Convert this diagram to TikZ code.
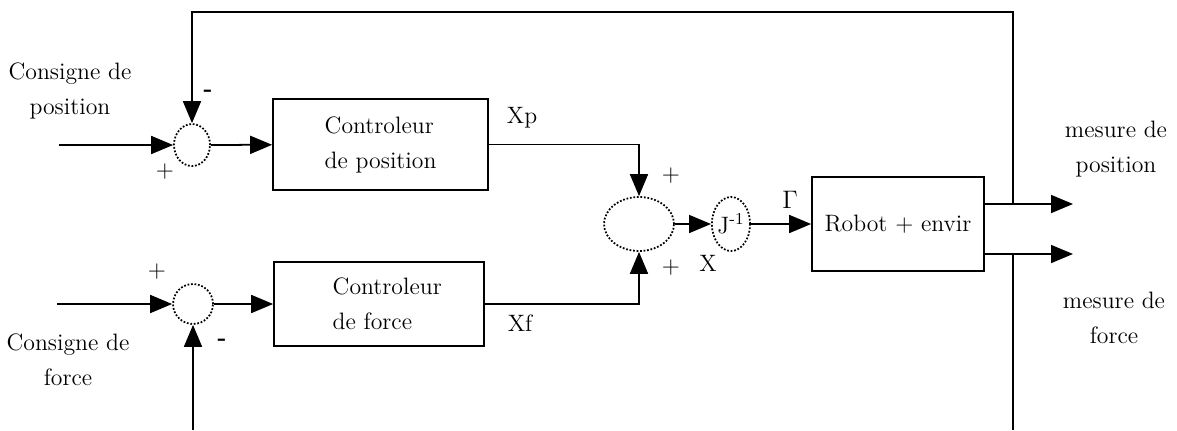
\documentclass[tikz,border=0pt]{standalone}
\usetikzlibrary{arrows.meta,shapes.geometric}

\begin{document}
\begin{tikzpicture}[x=0.02cm, y=-0.02cm, line width=1pt,
  >={Triangle[length=0.44cm, width=0.36cm]},
  every node/.style={font=\fontsize{13.5}{20}\selectfont},
  block/.style={draw, rectangle, inner sep=0pt},
  summer/.style={draw, ellipse, densely dotted, inner sep=0pt}]
  \useasboundingbox (0,0) rectangle (1177,430);

  % sommateurs et blocs
  \node[summer, minimum width=0.72cm, minimum height=0.84cm] (sP) at (192,145) {};
  \node[summer, minimum width=0.8cm, minimum height=0.8cm] (sF) at (193,304) {};
  \node[block, minimum width=4.3cm, minimum height=1.82cm] (ctrlP) at (380.5,144.5) {};
  \node[block, minimum width=4.2cm, minimum height=1.68cm] (ctrlF) at (379,304) {};
  \node[summer, minimum width=1.4cm, minimum height=1.08cm] (sum) at (639,224) {};
  \node[summer, minimum width=0.74cm, minimum height=1.08cm] (jinv) at (731,224) {J\textsuperscript{-1}};
  \node[block, minimum width=3.44cm, minimum height=1.88cm] (rob) at (898,224) {Robot + envir};

  \node[align=left, anchor=west] (tP) at (318,145) {Controleur\\de position};
  \node[align=left, anchor=west] (tF) at (326,304) {Controleur\\de force};

  \coordinate (inP) at (59,145);
  \coordinate (inF) at (57,304);
  \coordinate (outP) at (1073,204);
  \coordinate (outF) at (1073,254);
  \coordinate (tapP) at (1013,204);
  \coordinate (tapF) at (1013,254);
  \coordinate (topL) at (192,12);
  \coordinate (botR) at (1013,430);
  \coordinate (botL) at (193,430);

  % liaisons
  \draw[->] (inP) -- (sP);
  \draw[->] (sP) -- (ctrlP);
  \draw[->] (inF) -- (sF);
  \draw[->] (sF) -- (ctrlF);
  \draw[->] (ctrlP.east) -| (sum);
  \draw[->] (ctrlF.east) -| (sum);
  \draw[->] (sum) -- (jinv);
  \draw[->] (jinv) -- (rob);
  \draw[->] (rob.east |- outP) -- (outP);
  \draw[->] (rob.east |- outF) -- (outF);
  \draw[->] (tapP) |- (topL) -- (sP);
  \draw (tapF) -- (botR);
  \draw[->] (botL) -- (sF);

  % textes
  \node[align=center] (cP) at (70,91) {Consigne de\\position};
  \node[align=center] (cF) at (68,360) {Consigne de\\force};
  \node[align=center] (mP) at (1116,149) {mesure de\\position};
  \node[align=center] (mF) at (1114,318) {mesure de\\force};
  \node (lXp) at (522,118) {Xp};
  \node (lXf) at (520,323) {Xf};
  \node (lX) at (708,263) {X};
  \node (lG) at (790,200) {$\Gamma$};
  \node (m1) at (208,93) {\textbf{-}};
  \node (p1) at (165,172) {+};
  \node (p2) at (157,272) {+};
  \node (m2) at (222,342) {\textbf{-}};
  \node (p3) at (671,176) {+};
  \node (p4) at (671,268) {+};
\end{tikzpicture}
\end{document}
